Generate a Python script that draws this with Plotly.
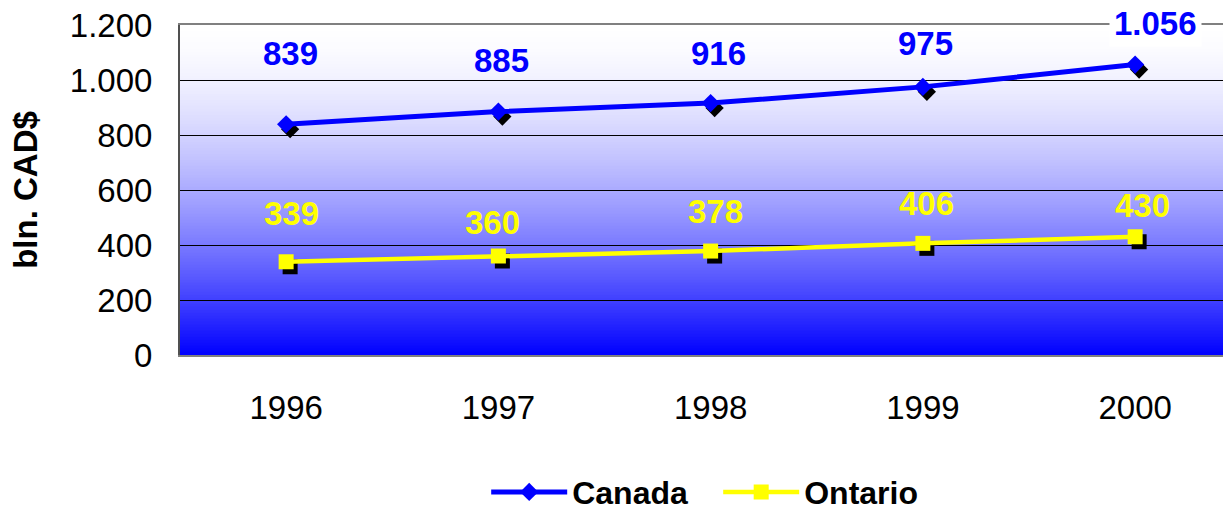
import plotly.graph_objects as go

# ---- data ----
years = ["1996", "1997", "1998", "1999", "2000"]
canada = [839, 885, 916, 975, 1056]
ontario = [339, 360, 378, 406, 430]
canada_labels = ["839", "885", "916", "975", "1.056"]
ontario_labels = ["339", "360", "378", "406", "430"]
y_ticks = [0, 200, 400, 600, 800, 1000, 1200]
y_ticktext = ["0", "200", "400", "600", "800", "1.000", "1.200"]

# ---- style ----
FONT = "Arial, Liberation Sans, sans-serif"
BLUE = "#0000FF"
YELLOW = "#FFFF00"
PLOT_W = 1043  # px width of plot area
PLOT_H = 330
Y_MAX = 1200
X_RANGE = [-0.5, 4.414]
px_x = (X_RANGE[1] - X_RANGE[0]) / PLOT_W
px_y = Y_MAX / PLOT_H
shadow_dx, shadow_dy = 4 * px_x, -5 * px_y

canada_shift = [(4, 71), (3, 51), (8, 50), (3, 43), (20, 41)]
ontario_shift = [(5, 48), (-6, 34), (5, 40), (4, 40), (7, 31)]

xs = list(range(len(years)))

fig = go.Figure()

# gradient background stripes
n = 110
for i in range(n):
    t0 = i / n
    t = (i + 0.5) / n  # fraction from top
    v = int(round(255 * (1 - t ** 1.6)))
    fig.add_shape(type="rect", xref="x domain", yref="y domain",
                  x0=0, x1=1, y0=1 - (i + 1) / n, y1=1 - t0 + 0.0005,
                  fillcolor=f"rgb({v},{v},255)", line_width=0, layer="below")

# shadows
fig.add_trace(go.Scatter(x=[x + shadow_dx for x in xs], y=[v + shadow_dy for v in canada],
                         mode="markers", marker=dict(symbol="diamond", size=14, color="black"),
                         showlegend=False, hoverinfo="skip"))
fig.add_trace(go.Scatter(x=[x + shadow_dx for x in xs], y=[v + shadow_dy for v in ontario],
                         mode="markers", marker=dict(symbol="square", size=15, color="black"),
                         showlegend=False, hoverinfo="skip"))

fig.add_trace(go.Scatter(x=xs, y=canada, name="Canada", mode="lines+markers",
                         line=dict(color=BLUE, width=5),
                         marker=dict(symbol="diamond", size=14, color=BLUE)))
fig.add_trace(go.Scatter(x=xs, y=ontario, name="Ontario", mode="lines+markers",
                         line=dict(color=YELLOW, width=4.5),
                         marker=dict(symbol="square", size=15, color=YELLOW)))

for x, v, lab, (dx, dy) in zip(xs, canada, canada_labels, canada_shift):
    fig.add_annotation(x=x, y=v, text=f"<b>{lab}</b>", showarrow=False,
                       xshift=dx, yshift=dy,
                       font=dict(family=FONT, size=33, color=BLUE),
                       bgcolor="white" if lab == canada_labels[-1] else None,
                       borderpad=4)
for x, v, lab, (dx, dy) in zip(xs, ontario, ontario_labels, ontario_shift):
    fig.add_annotation(x=x, y=v, text=f"<b>{lab}</b>", showarrow=False,
                       xshift=dx, yshift=dy,
                       font=dict(family=FONT, size=33, color=YELLOW))

fig.update_layout(
    width=1223, height=511,
    margin=dict(l=180, r=0, t=25, b=156),
    paper_bgcolor="white",
    plot_bgcolor="rgba(0,0,0,0)",
    font=dict(family=FONT, color="black"),
    showlegend=True,
    legend=dict(orientation="h", x=0.516, xanchor="center",
                yref="container", y=0.037, yanchor="middle",
                font=dict(family=FONT, size=32, color="black", weight="bold"),
                itemwidth=76, entrywidth=141, entrywidthmode="pixels",
                bgcolor="rgba(0,0,0,0)", traceorder="normal"),
    xaxis=dict(range=X_RANGE, tickvals=xs, ticktext=years, showgrid=False,
               zeroline=False, showline=True, linecolor="#808080", linewidth=2,
               mirror=True, ticks="", tickfont=dict(size=33, family=FONT),
               ticklabelstandoff=22, automargin=False),
    yaxis=dict(range=[0, Y_MAX], tickvals=y_ticks, ticktext=y_ticktext,
               showgrid=True, gridcolor="black", gridwidth=1, zeroline=False,
               showline=True, linecolor="#505050", linewidth=2, ticks="",
               tickfont=dict(size=33, family=FONT), ticklabelstandoff=19,
               automargin=False,
               title=dict(text="<b>bln. CAD$</b>", font=dict(size=33, family=FONT),
                          standoff=22)),
)

fig.write_html("out.html", config={"displayModeBar": False},
               post_script="document.body.style.margin='0';document.body.style.padding='0';")
